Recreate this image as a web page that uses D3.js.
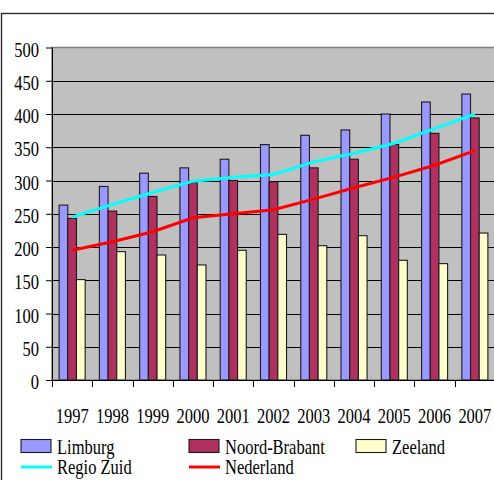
<!DOCTYPE html>
<html><head><meta charset="utf-8">
<script src="https://cdn.jsdelivr.net/npm/d3@7"></script>
<style>body{margin:0;background:#fff}svg{display:block}text{font-family:"Liberation Serif","Times New Roman",serif}</style>
</head><body><svg id="c" width="494" height="480"></svg>
<script>
const years = ["1997","1998","1999","2000","2001","2002","2003","2004","2005","2006","2007"];
const barSeries = ["Limburg","Noord-Brabant","Zeeland"];
const limburg = [263,291,311,319,332,354,368,376,400,418,430];
const noordBrabant = [243,254,276,297,300,298,319,332,354,371,394];
const zeeland = [151,193,188,173,195,219,202,217,180,175,221];
const regioZuid = [245,264,282,299,305,309,328,341,356,378,400];
const nederland = [195,208,223,244,250,256,272,289,305,323,345];
const yTicks = [0,50,100,150,200,250,300,350,400,450,500];

const barColors = ["#9999FF","#B03060","#FFFFCC"];
const svg = d3.select("#c");
const L = 52, R = 495, T = 47.5, B = 380;

function txt(g, x, y, s, anchor) {
  return g.append("text").attr("transform", `translate(${x},${y}) scale(1,1.22)`)
    .attr("text-anchor", anchor || "start")
    .style("font-family", '"Liberation Serif", "Times New Roman", serif')
    .style("font-size", "16.5px").attr("fill", "#000").text(s);
}

// outer border
svg.append("rect").attr("x", 1.5).attr("y", 13.5).attr("width", 520).attr("height", 520)
  .attr("fill", "none").attr("stroke", "#222").attr("stroke-width", 1.3);

const x = d3.scaleBand().domain(years).range([L, R]).padding(0);
const xi = d3.scaleBand().domain(barSeries).range([0, x.bandwidth()]).paddingInner(0).paddingOuter(0.82);
const y = d3.scaleLinear().domain([0, 500]).range([B, T]);

// plot area
svg.append("rect").attr("x", L).attr("y", T).attr("width", R - L).attr("height", B - T)
  .attr("fill", "#C0C0C0").attr("stroke", "#808080").attr("stroke-width", 1.5);

// gridlines
svg.append("g").selectAll("line").data(yTicks.filter(d => d > 0 && d < 500)).join("line")
  .attr("x1", L).attr("x2", R).attr("y1", d => Math.round(y(d)) + 0.5).attr("y2", d => Math.round(y(d)) + 0.5)
  .attr("stroke", "#000").attr("stroke-width", 1);

// bars
const seriesData = [limburg, noordBrabant, zeeland];
seriesData.forEach((vals, si) => {
  svg.append("g").selectAll("rect").data(vals).join("rect")
    .attr("x", (d, i) => x(years[i]) + xi(barSeries[si]))
    .attr("y", d => y(d))
    .attr("width", xi.bandwidth())
    .attr("height", d => B - y(d))
    .attr("fill", barColors[si]).attr("stroke", "#1a1a1a").attr("stroke-width", 1.1);
});

// lines
const line = d3.line().x((d, i) => x(years[i]) + x.bandwidth() / 2).y(d => y(d));
svg.append("path").datum(regioZuid).attr("d", line).attr("fill", "none").attr("stroke", "#00FFFF").attr("stroke-width", 3);
svg.append("path").datum(nederland).attr("d", line).attr("fill", "none").attr("stroke", "#FF0000").attr("stroke-width", 3);

// axes
const yAxis = svg.append("g").attr("transform", `translate(${L},0)`)
  .call(d3.axisLeft(y).tickValues(yTicks).tickSize(6).tickFormat(""));
yAxis.select(".domain").remove();
yAxis.selectAll("line").attr("stroke", "#000");
svg.append("line").attr("x1", L + 0.5).attr("x2", L + 0.5).attr("y1", T).attr("y2", B).attr("stroke", "#000");
yTicks.forEach(t => txt(svg, 39, y(t) + 9, String(t), "end"));

const xAxisG = svg.append("g").attr("transform", `translate(0,${B})`)
  .call(d3.axisBottom(x).tickSize(0).tickFormat(""));
xAxisG.select(".domain").remove();
svg.append("line").attr("x1", L).attr("x2", R).attr("y1", B + 0.5).attr("y2", B + 0.5).attr("stroke", "#000");
svg.append("g").selectAll("line").data(years.concat(["end"])).join("line")
  .attr("x1", (d, i) => Math.round(L + i * x.step()) + 0.5).attr("x2", (d, i) => Math.round(L + i * x.step()) + 0.5)
  .attr("y1", B).attr("y2", B + 7).attr("stroke", "#000");
years.forEach(yr => txt(svg, x(yr) + x.bandwidth() / 2, 423, yr, "middle"));

// legend
const legendItems = [
  {name: "Limburg", type: "bar", color: barColors[0], lx: 21, row: 0},
  {name: "Noord-Brabant", type: "bar", color: barColors[1], lx: 189, row: 0},
  {name: "Zeeland", type: "bar", color: barColors[2], lx: 356, row: 0},
  {name: "Regio Zuid", type: "line", color: "#00FFFF", lx: 21, row: 1},
  {name: "Nederland", type: "line", color: "#FF0000", lx: 189, row: 1}
];
legendItems.forEach(it => {
  if (it.type === "bar") {
    svg.append("rect").attr("x", it.lx).attr("y", 439.5).attr("width", 30).attr("height", 13)
      .attr("fill", it.color).attr("stroke", "#1a1a1a").attr("stroke-width", 1.1);
    txt(svg, it.lx + 36, 454, it.name);
  } else {
    svg.append("line").attr("x1", it.lx).attr("x2", it.lx + 31).attr("y1", 467).attr("y2", 467)
      .attr("stroke", it.color).attr("stroke-width", 3);
    txt(svg, it.lx + 36, 474, it.name);
  }
});
</script></body></html>
